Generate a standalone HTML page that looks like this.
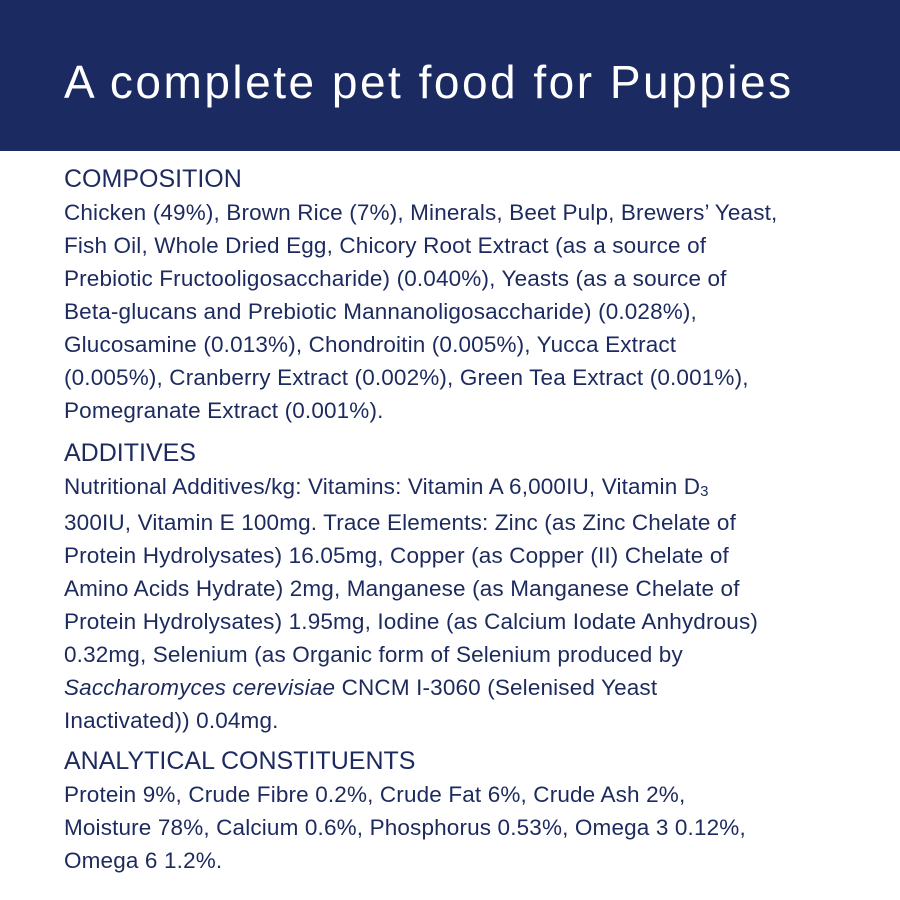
<!DOCTYPE html>
<html><head><meta charset="utf-8">
<style>
html,body{margin:0;padding:0;}
body{width:900px;height:900px;background:#fff;position:relative;overflow:hidden;font-family:"Liberation Sans",sans-serif;color:#1c2a5e;}
.hdr{position:absolute;left:0;top:0;width:900px;height:151px;background:#1b2a61;}
.hdr div{position:absolute;left:64px;top:55px;color:#fff;font-size:46px;letter-spacing:2.5px;white-space:nowrap;}
.blk{position:absolute;left:64px;white-space:nowrap;}
.h{font-size:25px;line-height:33px;}
.t{font-size:22.5px;line-height:33px;letter-spacing:0.15px;}
</style></head><body>
<div class="hdr"><div>A complete pet food for Puppies</div></div>

<div class="blk" style="top:163px">
<div class="h">COMPOSITION</div>
<div class="t">Chicken (49%), Brown Rice (7%), Minerals, Beet Pulp, Brewers’ Yeast,<br>
Fish Oil, Whole Dried Egg, Chicory Root Extract (as a source of<br>
Prebiotic Fructooligosaccharide) (0.040%), Yeasts (as a source of<br>
Beta-glucans and Prebiotic Mannanoligosaccharide) (0.028%),<br>
Glucosamine (0.013%), Chondroitin (0.005%), Yucca Extract<br>
(0.005%), Cranberry Extract (0.002%), Green Tea Extract (0.001%),<br>
Pomegranate Extract (0.001%).</div>
</div>

<div class="blk" style="top:437px">
<div class="h">ADDITIVES</div>
<div class="t" style="height:36px;overflow:visible">Nutritional Additives/kg: Vitamins: Vitamin A 6,000IU, Vitamin D<span style="font-size:15px;line-height:0;vertical-align:-2px">3</span></div>
<div class="t">300IU, Vitamin E 100mg. Trace Elements: Zinc (as Zinc Chelate of<br>
Protein Hydrolysates) 16.05mg, Copper (as Copper (II) Chelate of<br>
Amino Acids Hydrate) 2mg, Manganese (as Manganese Chelate of<br>
Protein Hydrolysates) 1.95mg, Iodine (as Calcium Iodate Anhydrous)<br>
0.32mg, Selenium (as Organic form of Selenium produced by<br>
<i>Saccharomyces cerevisiae</i> CNCM I-3060 (Selenised Yeast<br>
Inactivated)) 0.04mg.</div>
</div>

<div class="blk" style="top:745px">
<div class="h">ANALYTICAL CONSTITUENTS</div>
<div class="t">Protein 9%, Crude Fibre 0.2%, Crude Fat 6%, Crude Ash 2%,<br>
Moisture 78%, Calcium 0.6%, Phosphorus 0.53%, Omega 3 0.12%,<br>
Omega 6 1.2%.</div>
</div>
</body></html>
